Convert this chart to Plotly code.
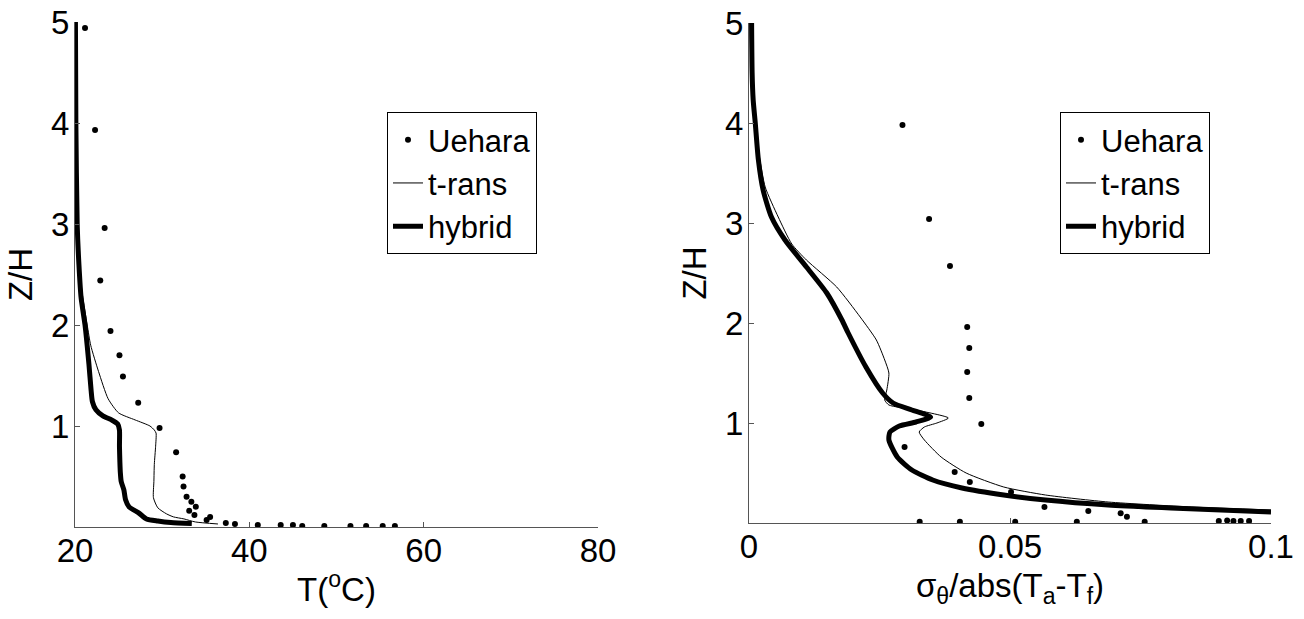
import plotly.graph_objects as go

# ---------------- data: left panel (temperature) ----------------
uehara_T = [21.15, 22.3, 23.4, 22.9, 24.07, 25.1, 25.5, 27.25, 29.7, 31.6, 32.35, 32.45,
            32.8, 33.35, 33.86, 33.1, 33.7, 35.5, 35.1, 37.3, 38.35, 40.97, 43.6, 45.0,
            46.07, 48.6, 51.6, 53.4, 55.3, 56.7]
uehara_Tz = [4.94, 3.93, 2.96, 2.44, 1.94, 1.70, 1.49, 1.23, 0.98, 0.74, 0.50, 0.40,
             0.30, 0.25, 0.20, 0.16, 0.12, 0.10, 0.07, 0.04, 0.03, 0.02, 0.02, 0.02,
             0.01, 0.01, 0.01, 0.01, 0.01, 0.01]

trans_T = [20.0, 20.05, 20.2, 20.45, 20.85, 21.4, 21.8, 22.7, 23.8, 25.0, 26.9, 28.6,
           29.1, 29.3, 29.25, 29.1, 29.05, 29.0, 29.5, 30.5, 31.3, 32.5, 33.8, 36.4]
trans_Tz = [5.0, 4.0, 3.0, 2.6, 2.3, 2.0, 1.8, 1.54, 1.27, 1.13, 1.06, 1.0,
            0.96, 0.93, 0.8, 0.62, 0.45, 0.29, 0.19, 0.13, 0.1, 0.08, 0.05, 0.03]

hybrid_T = [20.05, 20.1, 20.25, 20.45, 20.7, 21.15, 21.6, 21.85, 22.0, 22.4, 23.2, 24.2,
            24.9, 25.1, 25.1, 25.15, 25.2, 25.3, 25.6, 25.8, 26.2, 27.3, 28.2, 29.5, 31.0, 33.4]
hybrid_Tz = [5.0, 4.0, 3.0, 2.6, 2.27, 2.0, 1.61, 1.35, 1.24, 1.16, 1.1, 1.06,
             1.02, 0.96, 0.8, 0.64, 0.54, 0.45, 0.37, 0.27, 0.2, 0.14, 0.08, 0.06, 0.045, 0.035]

# ---------------- data: right panel (fluctuation) ----------------
uehara_s = [0.0294, 0.0345, 0.0385, 0.0418, 0.0422, 0.0418, 0.0422, 0.0445, 0.0298,
            0.0394, 0.0423, 0.0502, 0.0566, 0.0650, 0.0712, 0.0724, 0.0758, 0.0628,
            0.0510, 0.0404, 0.0327, 0.0900, 0.0916, 0.0928, 0.0942, 0.0958]
uehara_sz = [3.98, 3.04, 2.57, 1.96, 1.75, 1.51, 1.25, 0.99, 0.76,
             0.51, 0.41, 0.31, 0.16, 0.12, 0.097, 0.063, 0.013, 0.013,
             0.013, 0.013, 0.013, 0.02, 0.025, 0.02, 0.02, 0.02]

trans_s = [0.0002, 0.0004, 0.0010, 0.0020, 0.0031, 0.0056, 0.0082, 0.0110, 0.0168,
           0.0213, 0.0244, 0.0260, 0.0268, 0.0264, 0.0260, 0.0268, 0.0320, 0.0382,
           0.0360, 0.0336, 0.0326, 0.0336, 0.0368, 0.0416, 0.0488, 0.0568, 0.0688,
           0.0848, 0.1]
trans_sz = [5.0, 4.5, 4.0, 3.66, 3.36, 3.06, 2.79, 2.63, 2.36,
            2.06, 1.83, 1.63, 1.50, 1.33, 1.23, 1.18, 1.13, 1.05,
            1.00, 0.96, 0.91, 0.83, 0.66, 0.50, 0.36, 0.28, 0.21,
            0.16, 0.13]

hybrid_s = [0.0005, 0.0006, 0.0008, 0.0012, 0.0018, 0.0027, 0.0043, 0.0069, 0.011,
            0.0149, 0.0178, 0.0190, 0.0224, 0.0256, 0.0276, 0.0312, 0.0348, 0.0320,
            0.0288, 0.0270, 0.0268, 0.0284, 0.0312, 0.0352, 0.0408, 0.0488, 0.0568,
            0.0688, 0.0808, 0.1]
hybrid_sz = [5.0, 4.5, 4.23, 4.0, 3.63, 3.33, 3.06, 2.83, 2.56,
             2.3, 2.03, 1.90, 1.56, 1.30, 1.20, 1.13, 1.06, 1.01,
             0.97, 0.91, 0.83, 0.66, 0.53, 0.43, 0.35, 0.28, 0.23,
             0.18, 0.15, 0.11]

left_xticks = [20, 40, 60, 80]
right_xticks = [0, 0.05, 0.1]
right_xticktext = ["0", "0.05", "0.1"]
yticks = [1, 2, 3, 4, 5]

W, H = 1304, 619
FONT = "Liberation Sans, Arial, sans-serif"
FS = 33
LFS = 31

fig = go.Figure()

def add_panel(xa, ya, legend, ux, uy, tx, ty, hx, hy):
    fig.add_trace(go.Scatter(x=ux, y=uy, mode="markers", name="Uehara",
                             marker=dict(color="black", size=6),
                             xaxis=xa, yaxis=ya, legend=legend))
    fig.add_trace(go.Scatter(x=tx, y=ty, mode="lines", name="t-rans",
                             line=dict(color="black", width=1, shape="spline", smoothing=0.6),
                             xaxis=xa, yaxis=ya, legend=legend))
    fig.add_trace(go.Scatter(x=hx, y=hy, mode="lines", name="hybrid",
                             line=dict(color="black", width=5, shape="spline", smoothing=0.6),
                             xaxis=xa, yaxis=ya, legend=legend))

add_panel("x", "y", "legend", uehara_T, uehara_Tz, trans_T, trans_Tz, hybrid_T, hybrid_Tz)
add_panel("x2", "y2", "legend2", uehara_s, uehara_sz, trans_s, trans_sz, hybrid_s, hybrid_sz)

def px_x(p):
    return p / W

def px_y(p):
    return (H - p) / H

axis_common = dict(showgrid=False, zeroline=False, showline=True, linecolor="#555555",
                   linewidth=1, ticks="inside", ticklen=5, tickcolor="#555555",
                   tickfont=dict(size=FS, family=FONT, color="black"), automargin=False)

fig.update_layout(
    width=W, height=H,
    margin=dict(l=0, r=0, t=0, b=0),
    paper_bgcolor="white", plot_bgcolor="white",
    font=dict(family=FONT, size=FS, color="black"),
    xaxis=dict(domain=[px_x(75), px_x(598)], range=[20, 80], tickvals=left_xticks,
               anchor="y", title=dict(text="T(<sup>o</sup>C)", standoff=10,
                                      font=dict(size=FS, family=FONT)),
               ticklabelstandoff=-6, **axis_common),
    yaxis=dict(domain=[px_y(527), px_y(22)], range=[0, 5], tickvals=yticks,
               anchor="x", title=dict(text="Z/H", standoff=8, font=dict(size=FS, family=FONT)),
               ticklabelstandoff=-2, **axis_common),
    xaxis2=dict(domain=[px_x(749), px_x(1271)], range=[0, 0.1], tickvals=right_xticks,
                ticktext=right_xticktext, anchor="y2",
                title=dict(text="σ<sub>θ</sub>/abs(T<sub>a</sub>-T<sub>f</sub>)", standoff=10,
                           font=dict(size=FS, family=FONT)),
                ticklabelstandoff=-6, **axis_common),
    yaxis2=dict(domain=[px_y(523), px_y(23)], range=[0, 5], tickvals=yticks,
                anchor="x2", title=dict(text="Z/H", standoff=8, font=dict(size=FS, family=FONT)),
                ticklabelstandoff=-2, **axis_common),
    legend=dict(x=px_x(537), xanchor="right", y=px_y(112), yanchor="top",
                bordercolor="black", borderwidth=1, bgcolor="white",
                font=dict(size=LFS, family=FONT, color="black"), tracegroupgap=0),
    legend2=dict(x=px_x(1210), xanchor="right", y=px_y(112), yanchor="top",
                 bordercolor="black", borderwidth=1, bgcolor="white",
                 font=dict(size=LFS, family=FONT, color="black"), tracegroupgap=0),
    showlegend=True,
)

fig.write_html("out.html")
